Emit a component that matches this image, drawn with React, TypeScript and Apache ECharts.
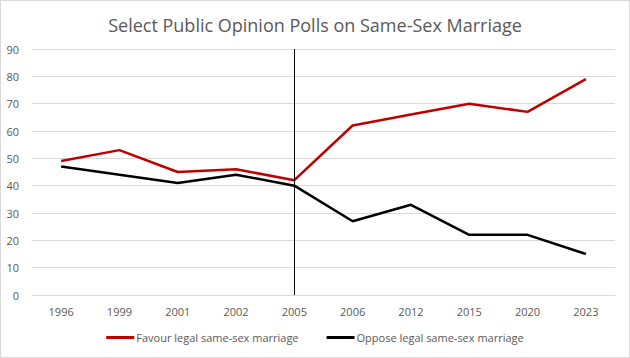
import React, { useEffect, useRef } from "react";
import * as echarts from "echarts";

const categories = ["1996", "1999", "2001", "2002", "2005", "2006", "2012", "2015", "2020", "2023"];
const favourValues = [49, 53, 45, 46, 42, 62, 66, 70, 67, 79];
const opposeValues = [47, 44, 41, 44, 40, 27, 33, 22, 22, 15];
const markerCategory = "2005";

export default function App() {
  const ref = useRef<HTMLDivElement>(null);
  useEffect(() => {
    if (!ref.current) return;
    const chart = echarts.init(ref.current, null, { renderer: "svg" });
    const font = "'Open Sans', 'Noto Sans', sans-serif";
    chart.setOption({
      animation: false,
      backgroundColor: "#ffffff",
      title: {
        text: "Select Public Opinion Polls on Same-Sex Marriage",
        left: "center",
        top: 10,
        textStyle: { color: "#595959", fontSize: 18, fontWeight: "normal", fontFamily: font },
      },
      grid: { left: 31, right: 14, top: 48, bottom: 62, containLabel: false },
      legend: {
        bottom: 9,
        left: "center",
        itemWidth: 28,
        itemHeight: 3,
        itemGap: 28,
        icon: "rect",
        textStyle: { color: "#595959", fontSize: 11, fontFamily: font, padding: [0, 0, 0, -3] },
        data: ["Favour legal same-sex marriage", "Oppose legal same-sex marriage"],
      },
      xAxis: {
        type: "category",
        data: categories,
        boundaryGap: true,
        axisLine: { show: true, lineStyle: { color: "#d9d9d9", width: 1 } },
        axisTick: { show: false },
        axisLabel: { color: "#595959", fontSize: 11, fontFamily: font, margin: 11 },
      },
      yAxis: {
        type: "value",
        min: 0,
        max: 90,
        interval: 10,
        axisLine: { show: false },
        axisTick: { show: false },
        axisLabel: { color: "#595959", fontSize: 11, fontFamily: font, margin: 13 },
        splitLine: { lineStyle: { color: "#d9d9d9", width: 1 } },
      },
      series: [
        {
          name: "Favour legal same-sex marriage",
          type: "line",
          data: favourValues,
          symbol: "none",
          lineStyle: { color: "#c00000", width: 2.5 },
          itemStyle: { color: "#c00000" },
          z: 3,
          markLine: {
            silent: true,
            symbol: ["none", "none"],
            label: { show: false },
            lineStyle: { color: "#000000", width: 1, type: "solid" },
            data: [{ xAxis: markerCategory }],
          },
        },
        {
          name: "Oppose legal same-sex marriage",
          type: "line",
          data: opposeValues,
          symbol: "none",
          lineStyle: { color: "#000000", width: 2.5 },
          itemStyle: { color: "#000000" },
          z: 3,
        },
      ],
    });
    return () => chart.dispose();
  }, []);
  return (
    <div
      style={{
        position: "fixed",
        left: 0,
        top: 0,
        width: 630,
        height: 358,
        boxSizing: "border-box",
        border: "1px solid #d9d9d9",
        background: "#fff",
      }}
    >
      <div ref={ref} style={{ width: 628, height: 356 }} />
    </div>
  );
}
